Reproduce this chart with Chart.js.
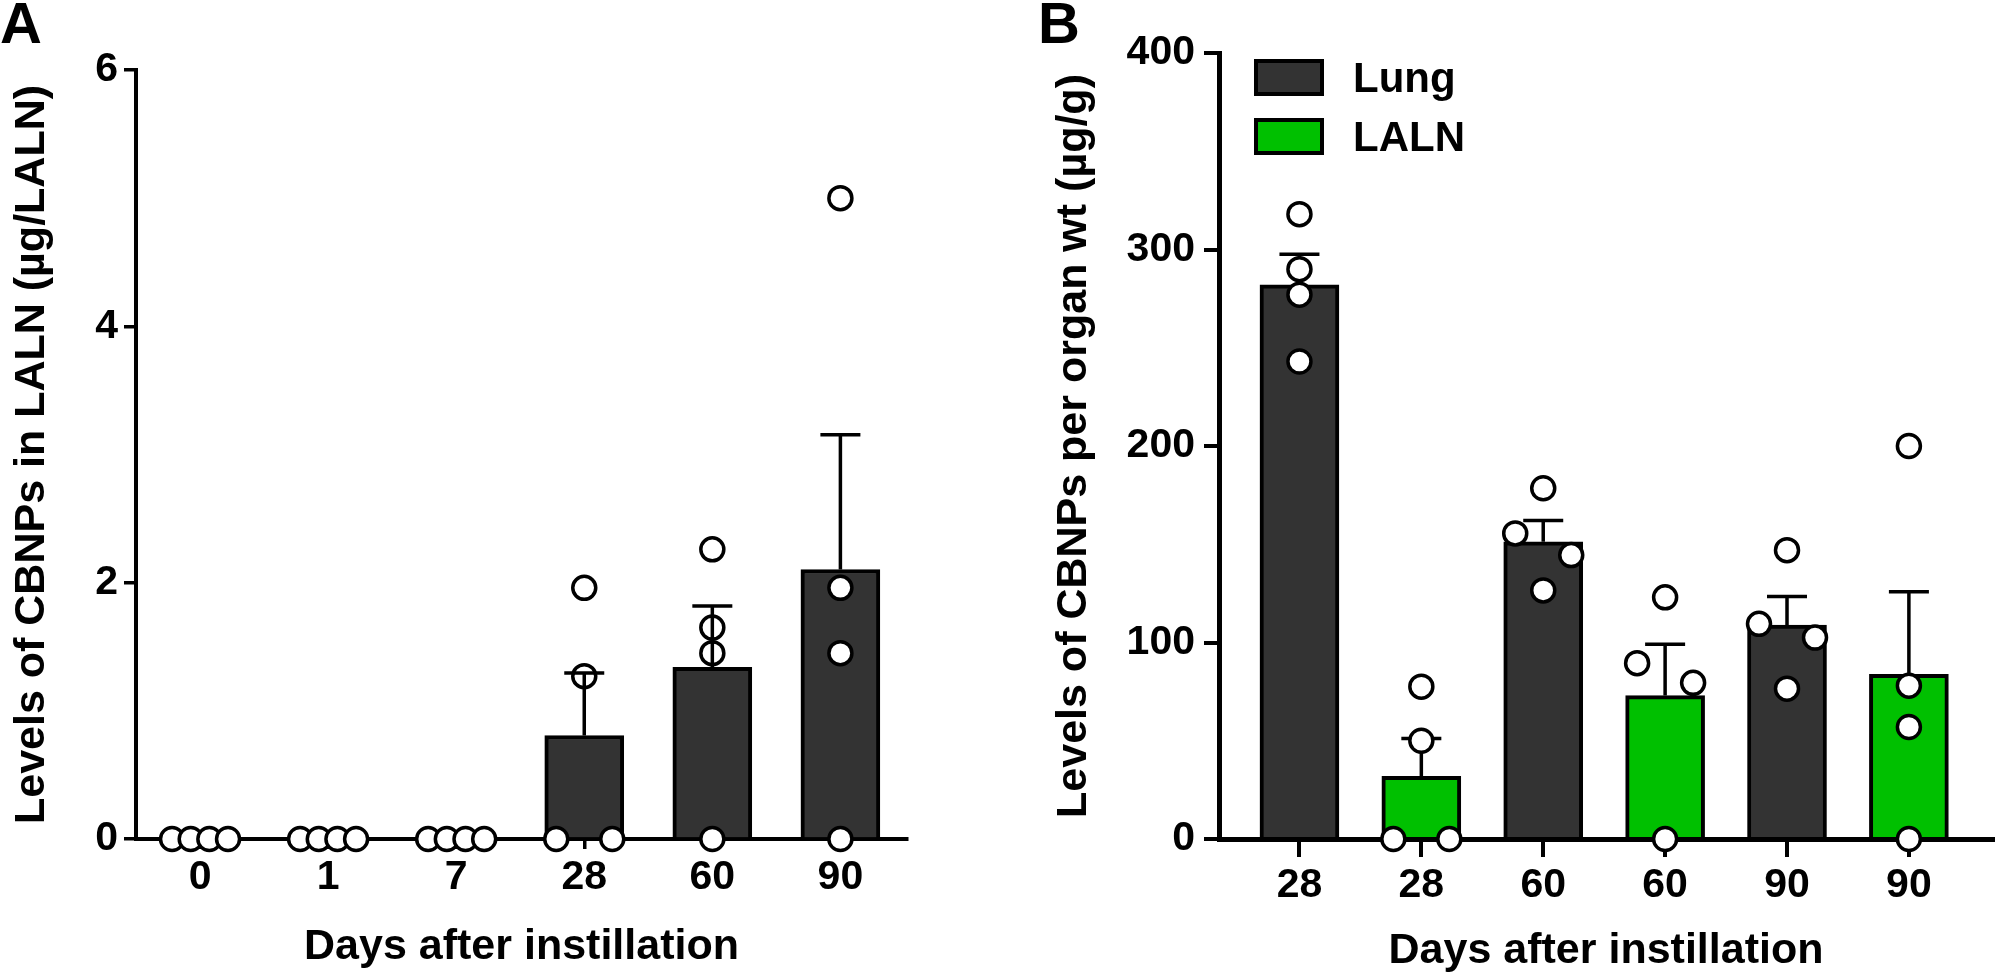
<!DOCTYPE html>
<html>
<head>
<meta charset="utf-8">
<script src="https://cdn.jsdelivr.net/npm/chart.js@4.4.0/dist/chart.umd.min.js"></script>
<style>
  html, body { margin: 0; padding: 0; background: #fff; }
  body { width: 2008px; height: 977px; position: relative; overflow: hidden;
         font-family: 'Liberation Sans', Arial, sans-serif; font-weight: bold; color: #000; }
  canvas { position: absolute; top: 0; }
  #chartA { left: 0; }
  #chartB { left: 1000px; }
  .panel { position: absolute; top: -6px; font-size: 58px; line-height: 58px; }
  .legend-box { position: absolute; left: 1254px; width: 70px; height: 37px;
                border: 4px solid #000; box-sizing: border-box; }
  .legend-text { position: absolute; left: 1353px; font-size: 42px; line-height: 37px; }
</style>
</head>
<body>
<div class="panel" style="left:0">A</div>
<div class="panel" style="left:1038px">B</div>
<canvas id="chartA" width="1000" height="977"></canvas>
<canvas id="chartB" width="1008" height="977"></canvas>
<div id="legendB"></div>
<script>
// ---- panel A : CBNPs in LALN (ug/LALN), 4 mice per day ----
const daysA = ['0', '1', '7', '28', '60', '90'];
const lalnDay0 = [0, 0, 0, 0];
const lalnDay1 = [0, 0, 0, 0];
const lalnDay7 = [0, 0, 0, 0];
const lalnDay28 = [0, 0, 1.27, 1.96];
const lalnDay60 = [0, 1.45, 1.65, 2.26];
const lalnDay90 = [0, 1.45, 1.96, 5.0];
const ticksA = [0, 2, 4, 6];

// ---- panel B : CBNPs per organ weight (ug/g) ----
const daysB = ['28', '28', '60', '60', '90', '90'];
const organB = ['Lung', 'LALN', 'Lung', 'LALN', 'Lung', 'LALN'];
const lung28 = [243, 277, 290, 318];
const laln28 = [0, 0, 50, 77.5];
const lung60 = [126.5, 144.5, 155.5, 178.5];
const laln60 = [0, 79.5, 89.5, 123];
const lung90 = [76.5, 102.5, 109.5, 147];
const laln90 = [0, 57, 78, 200];
const ticksB = [0, 100, 200, 300, 400];

const organs = ['Lung', 'LALN'];
const organColors = { Lung: '#333333', LALN: '#00c000' };

const FONT = "'Liberation Sans', Arial, sans-serif";
Chart.defaults.font.family = FONT;
Chart.defaults.font.weight = 'bold';
Chart.defaults.color = '#000';

function mean(a) {
  return a.reduce((s, v) => s + v, 0) / a.length;
}
function sem(a) {
  var m = mean(a);
  var ss = a.reduce((s, v) => s + (v - m) * (v - m), 0);
  return Math.sqrt(ss / (a.length - 1)) / Math.sqrt(a.length);
}

//draws mean + SEM whiskers on top of the bars of one dataset
function drawErrorBars(chart, meta, opts) {
  var ds = chart.data.datasets[meta.index];
  var y = chart.scales.y;
  var ctx = chart.ctx;
  ctx.save();
  ctx.strokeStyle = '#000';
  ctx.lineWidth = opts.width;
  meta.data.forEach(function(bar, j) {
    var e = ds.sem[j];
    if (!e) return;
    var top = y.getPixelForValue(ds.data[j].y + e);
    ctx.beginPath();
    ctx.moveTo(bar.x, bar.y);
    ctx.lineTo(bar.x, top);
    ctx.moveTo(bar.x - opts.cap / 2, top);
    ctx.lineTo(bar.x + opts.cap / 2, top);
    ctx.stroke();
  });
  ctx.restore();
}

const errorBars = {
  id: 'errorBars',
  afterDatasetDraw(chart, args, opts) {
    if (!opts.onTop && args.meta.type === 'bar') drawErrorBars(chart, args.meta, opts);
  },
  afterDatasetsDraw(chart, args, opts) {
    if (!opts.onTop) return;
    chart.getSortedVisibleDatasetMetas().forEach(function(meta) {
      if (meta.type === 'bar') drawErrorBars(chart, meta, opts);
    });
  }
};

//spread points that would overlap, the way the original scatter does
function spreadPoints(chart, groups, halfSpread, minGap) {
  var xs = chart.scales.x, ys = chart.scales.y;
  var unit = xs.getPixelForValue(1) - xs.getPixelForValue(0);
  var pts = [];
  groups.forEach(function(vals, i) {
    var sorted = vals.slice().sort((a, b) => b - a);
    var cluster = [];
    var flush = function() {
      cluster.forEach(function(v, k) {
        var off = cluster.length > 1 ? -halfSpread + 2 * halfSpread * k / (cluster.length - 1) : 0;
        pts.push({ x: i + off / unit, y: v });
      });
      cluster = [];
    };
    sorted.forEach(function(v) {
      if (cluster.length &&
          Math.abs(ys.getPixelForValue(v) - ys.getPixelForValue(cluster[cluster.length - 1])) >= minGap) flush();
      cluster.push(v);
    });
    flush();
  });
  var scatter = chart.data.datasets.find(d => d.type === 'scatter');
  scatter.data = pts;
  chart.update('none');
}

function pointDataset(groups) {
  var pts = [];
  groups.forEach(function(vals, i) {
    vals.forEach(v => pts.push({ x: i, y: v }));
  });
  return {
    type: 'scatter',
    data: pts,
    order: 1,
    clip: false,
    pointRadius: 11.5,
    pointHoverRadius: 11.5,
    pointBorderWidth: 3.5,
    pointBackgroundColor: '#fff',
    pointBorderColor: '#000'
  };
}

function barDataset(label, color, groups, keep) {
  var data = [], errs = [];
  groups.forEach(function(vals, i) {
    if (!keep(i)) return;
    data.push({ x: i, y: mean(vals) });
    errs.push(sem(vals));
  });
  return {
    type: 'bar',
    label: label,
    data: data,
    sem: errs,
    order: 2,
    grouped: false,
    barThickness: 79,
    backgroundColor: color,
    borderColor: '#000',
    borderWidth: 4
  };
}

function makeOptions(c) {
  return {
    responsive: false,
    animation: false,
    events: [],
    layout: { padding: c.padding },
    plugins: {
      legend: { display: false },
      tooltip: { enabled: false },
      errorBars: { onTop: c.errorsOnTop, width: 3.5, cap: 40 }
    },
    scales: {
      x: {
        type: 'linear',
        min: c.xMin,
        max: c.xMax,
        offset: false,
        afterBuildTicks: s => { s.ticks = c.labels.map((_, i) => ({ value: i })); },
        afterFit: s => { s.height = 138; },
        ticks: {
          autoSkip: false,
          maxRotation: 0,
          padding: 4.4,
          font: { size: 41, weight: 'bold' },
          callback: v => c.labels[v]
        },
        grid: { offset: false, drawOnChartArea: false, drawTicks: true, tickLength: c.xTickLen, lineWidth: c.tickWidth, color: '#000' },
        border: { display: true, width: c.axisWidth, color: '#000' },
        title: {
          display: true,
          text: 'Days after instillation',
          font: { size: 43, weight: 'bold' },
          padding: { top: 0, bottom: c.xTitlePad }
        }
      },
      y: {
        min: c.yTicks[0],
        max: c.yTicks[c.yTicks.length - 1],
        afterBuildTicks: s => { s.ticks = c.yTicks.map(v => ({ value: v })); },
        afterFit: s => { s.width = c.yWidth; },
        ticks: { padding: c.yLabelPad, font: { size: 41, weight: 'bold' } },
        grid: { offset: false, drawOnChartArea: false, drawTicks: true, tickLength: c.yTickLen, lineWidth: c.tickWidth, color: '#000' },
        border: { display: true, width: c.axisWidth, color: '#000' },
        title: {
          display: true,
          text: c.yTitle,
          font: { size: 43, weight: 'bold' },
          padding: { top: c.yTitlePad, bottom: 0 }
        }
      }
    }
  };
}

// ---------- panel A ----------
const groupsA = [lalnDay0, lalnDay1, lalnDay7, lalnDay28, lalnDay60, lalnDay90];
const chartA = new Chart(document.getElementById('chartA').getContext('2d'), {
  type: 'bar',
  data: {
    datasets: [
      barDataset('LALN', organColors.Lung, groupsA, () => true),
      pointDataset(groupsA)
    ]
  },
  options: makeOptions({
    padding: { top: 70, right: 93, bottom: 0, left: 0 },
    labels: daysA, xMin: -0.5, xMax: 5.52,
    yTicks: ticksA, yWidth: 136,
    yTitle: 'Levels of CBNPs in LALN (\u00b5g/LALN)',
    xTickLen: 10, yTickLen: 12, yLabelPad: 6,
    tickWidth: 3.5, axisWidth: 4,
    xTitlePad: 4, yTitlePad: 6,
    errorsOnTop: true
  }),
  plugins: [errorBars]
});
spreadPoints(chartA, groupsA, 28, 23);

// ---------- panel B ----------
const groupsB = [lung28, laln28, lung60, laln60, lung90, laln90];
const chartB = new Chart(document.getElementById('chartB').getContext('2d'), {
  type: 'bar',
  data: {
    datasets: organs.map(o => barDataset(o, organColors[o], groupsB, i => organB[i] === o))
      .concat([pointDataset(groupsB)])
  },
  options: makeOptions({
    padding: { top: 53, right: 2, bottom: 0, left: 0 },
    labels: daysB, xMin: -0.66, xMax: 5.69,
    yTicks: ticksB, yWidth: 219,
    yTitle: 'Levels of CBNPs per organ wt (\u00b5g/g)',
    xTickLen: 18, yTickLen: 15, yLabelPad: 9,
    tickWidth: 4, axisWidth: 5,
    xTitlePad: 0, yTitlePad: 48,
    errorsOnTop: false
  }),
  plugins: [errorBars]
});
spreadPoints(chartB, groupsB, 28, 23);

// legend for panel B
var legend = document.getElementById('legendB');
organs.forEach(function(o, k) {
  var top = 59 + k * 59;
  var box = document.createElement('div');
  box.className = 'legend-box';
  box.style.top = top + 'px';
  box.style.background = organColors[o];
  var txt = document.createElement('div');
  txt.className = 'legend-text';
  txt.style.top = top + 'px';
  txt.textContent = o;
  legend.appendChild(box);
  legend.appendChild(txt);
});
</script>
</body>
</html>
